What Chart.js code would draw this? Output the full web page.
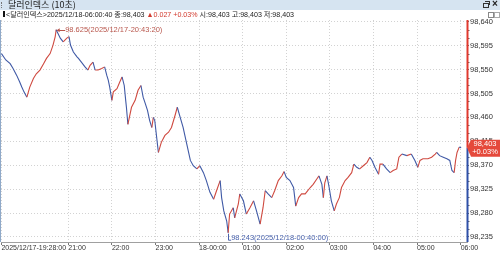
<!DOCTYPE html>
<html><head><meta charset="utf-8">
<script src="https://cdn.jsdelivr.net/npm/chart.js@4.4.1/dist/chart.umd.min.js"></script>
<style>
html,body{margin:0;padding:0;background:#fff}
body{width:500px;height:254px;overflow:hidden;position:relative;font-family:'Liberation Sans','Noto Sans CJK KR',sans-serif}
#c{position:absolute;left:0;top:0}
#title{position:absolute;left:0;top:0;width:500px;height:10px;background:#d6e4f1;font-size:9px;line-height:10px;color:#222;white-space:nowrap;font-family:'Noto Sans CJK KR',sans-serif;z-index:2}
#title .t{position:absolute;left:8px;top:0}
#title .grip{position:absolute;left:1px;top:2px;width:1px;height:6px;border-left:1px dotted #777}
#xx{position:absolute;left:492px;top:-1px;width:8px;height:10px;font-size:10px;line-height:10px;font-weight:bold;color:#222;font-family:'Liberation Sans',sans-serif;z-index:3}
#title .r1{position:absolute;left:483px;top:3px;width:4px;height:3px;border:1px solid #333}
#title .r2{position:absolute;left:485px;top:1px;width:4px;height:3px;border-top:1px solid #333;border-right:1px solid #333}
#info{position:absolute;left:0;top:10px;width:480px;height:10px;font-size:7.1px;line-height:10px;color:#222;white-space:nowrap}
#info .sq{display:inline-block;width:2px;height:6px;background:#111;margin:0 1px 0 3px}
#info .up{color:#d23a2e}
.b1{position:absolute;left:488px;top:12px;width:4px;height:4px;border:1px solid #888;background:#fff}
.b2{position:absolute;left:494px;top:12px;width:4px;height:4px;border:1px solid #aaa;background:#fff}
#lb{position:absolute;left:0;top:20px;width:1px;height:222px;background:#8fa9c9}
</style></head>
<body>
<canvas id="c" width="500" height="254"></canvas>
<div id="title"><span class="grip"></span><span class="t">달러인덱스 (10초)</span><span class="r1"></span><span class="r2"></span></div>
<div id="xx">×</div>
<div id="info"><span class="sq"></span>&lt;달러인덱스&gt;2025/12/18-06:00:40 종:98,403 <span class="up">▲0.027 +0.03%</span> 시:98,403 고:98,403 저:98,403</div>
<div class="b1"></div><div class="b2"></div>
<div id="lb"></div>
<script>
// minutes relative to 2025/12/17 21:00
const times = [-92,-86,-80,-76,-71,-67,-64,-61,-57,-53,
 -48,-44,-39,-34,-30,-25,-21,-18,-16.67,-11,
 -7,-2,1,3,7,12,14,18,23,27,
 30,34,37,41,46,50,53,55,57,60,
 62,67,71,74,77,79,80,82,87,92,
 96,100,103,106,109,112,115,117,119,124,
 128,133,138,142,147,150,154,158,163,168,
 172,177,181,186,190,195,200,204,209,211,
 214,218,220,222,227,229,234,236,241,245,
 250,255,259,264,268,271,275,280,284,289,
 294,297,300,305,310,313,317,321,326,333,
 337,342,345,349,351,353,356,359,362,366,
 369,373,376,381,385,390,393,397,401,406,
 411,415,418,422,427,429,433,438,443,447,
 452,455,459,466,472,477,481,484,488,495,
 500,505,507,511,516,521,525,528,531,533,
 535,538,540.67];
const prices = [98.580,98.568,98.561,98.552,98.539,98.527,98.517,98.508,98.498,98.517,
 98.533,98.542,98.549,98.561,98.571,98.580,98.596,98.612,98.625,98.609,
 98.602,98.609,98.612,98.596,98.583,98.574,98.571,98.564,98.555,98.549,
 98.558,98.564,98.549,98.549,98.552,98.555,98.539,98.530,98.517,98.492,
 98.508,98.514,98.527,98.536,98.520,98.492,98.479,98.447,98.479,98.492,
 98.511,98.520,98.498,98.486,98.473,98.454,98.441,98.460,98.454,98.394,
 98.413,98.426,98.432,98.441,98.464,98.479,98.460,98.441,98.410,98.379,
 98.369,98.363,98.369,98.356,98.341,98.319,98.306,98.322,98.341,98.309,
 98.284,98.265,98.243,98.278,98.290,98.271,98.297,98.316,98.303,98.278,
 98.290,98.303,98.284,98.259,98.290,98.322,98.316,98.309,98.322,98.341,
 98.350,98.358,98.347,98.341,98.328,98.293,98.309,98.316,98.316,98.328,
 98.334,98.344,98.350,98.334,98.309,98.337,98.350,98.328,98.303,98.284,
 98.297,98.309,98.328,98.341,98.347,98.356,98.372,98.366,98.363,98.369,
 98.375,98.385,98.379,98.366,98.353,98.372,98.372,98.363,98.356,98.360,
 98.363,98.385,98.391,98.388,98.391,98.379,98.366,98.379,98.382,98.382,
 98.385,98.391,98.394,98.388,98.385,98.382,98.379,98.360,98.356,98.379,
 98.394,98.404,98.403];
const xTickMinutes = [-92,0,60,120,180,240,300,360,420,480,540];
const xTickLabels = ['2025/12/17-19:28:00','21:00','22:00','23:00','18-00:00','01:00','02:00','03:00','04:00','05:00','06:00'];
const yTickValues = [98.235,98.280,98.325,98.370,98.415,98.460,98.505,98.550,98.595,98.640];
const lastPrice = 98.403, lastChange = '+0.03%';
const highPoint = {t:-16.67, v:98.625, label:'98.625(2025/12/17-20:43:20)'};
const lowPoint = {t:220, v:98.243, label:'98.243(2025/12/18-00:40:00)'};

const RED = '#cf4a40', BLUE = '#405aa6';
const FONT = "'Liberation Sans',sans-serif";

const deco = {
  id:'deco',
  afterDatasetsDraw(chart){
    const {ctx, chartArea:a, scales:{x,y}} = chart;
    ctx.save();
    const yp = y.getPixelForValue(lastPrice);
    const ax = a.right + 0.5;
    ctx.strokeStyle = '#666'; ctx.lineWidth = 1;
    for (let i=0;i<yTickValues.length;i++){
      for (const d of [0.015,0.030]){
        const v = yTickValues[i]+d;
        if (v > y.max) continue;
        const py = Math.round(y.getPixelForValue(v))+0.5;
        ctx.beginPath(); ctx.moveTo(ax, py); ctx.lineTo(ax+2, py); ctx.stroke();
      }
    }
    ctx.lineWidth = 2;
    ctx.strokeStyle = '#e0392e'; ctx.beginPath(); ctx.moveTo(ax, a.top); ctx.lineTo(ax, yp); ctx.stroke();
    ctx.strokeStyle = '#2f50a8'; ctx.beginPath(); ctx.moveTo(ax, yp); ctx.lineTo(ax, a.bottom); ctx.stroke();
    ctx.fillStyle = '#e5493b';
    ctx.beginPath();
    ctx.moveTo(a.right, yp); ctx.lineTo(a.right+4, yp-8); ctx.lineTo(500, yp-8);
    ctx.lineTo(500, yp+9); ctx.lineTo(a.right+4, yp+9); ctx.closePath(); ctx.fill();
    ctx.fillStyle = '#fff'; ctx.font = '7.5px '+FONT; ctx.textAlign='center'; ctx.textBaseline='middle';
    ctx.fillText(lastPrice.toFixed(3).replace('.',','), 485, yp-3.5);
    ctx.fillText(lastChange, 485, yp+4.5);
    const hx = x.getPixelForValue(highPoint.t), hy = y.getPixelForValue(highPoint.v);
    ctx.strokeStyle = '#b8564c'; ctx.fillStyle = '#b8564c'; ctx.lineWidth = 1;
    ctx.beginPath(); ctx.moveTo(hx+1, Math.round(hy)+0.5); ctx.lineTo(hx+9, Math.round(hy)+0.5); ctx.stroke();
    ctx.beginPath(); ctx.moveTo(hx+0.5, hy+0.5); ctx.lineTo(hx+3.5, hy-1.5); ctx.lineTo(hx+3.5, hy+2.5); ctx.closePath(); ctx.fill();
    ctx.textAlign='left'; ctx.textBaseline='middle'; ctx.font='7.5px '+FONT;
    ctx.fillText(highPoint.label, hx+9, hy+0.5);
    const lx = x.getPixelForValue(lowPoint.t), ly = y.getPixelForValue(lowPoint.v);
    ctx.strokeStyle = '#4a63ad'; ctx.fillStyle = '#4a63ad';
    ctx.beginPath(); ctx.moveTo(Math.round(lx)+0.5, ly+1); ctx.lineTo(Math.round(lx)+0.5, ly+7.5); ctx.lineTo(lx+3, ly+7.5); ctx.stroke();
    ctx.fillText(lowPoint.label, lx+3, ly+5);
    ctx.restore();
  }
};

new Chart(document.getElementById('c'), {
  type:'line',
  data:{datasets:[{
    data: times.map((t,i)=>({x:t, y:prices[i]})),
    borderWidth:1.1, pointRadius:0, tension:0, borderColor:RED,
    segment:{borderColor: c => c.p1.parsed.y >= c.p0.parsed.y ? RED : BLUE}
  }]},
  options:{
    responsive:false, animation:false, events:[],
    layout:{padding:{left:1, top:20, right:0, bottom:0}},
    plugins:{legend:{display:false}, tooltip:{enabled:false}},
    scales:{
      x:{type:'linear', min:-92.6, max:548.7,
        afterFit(s){ s.height = 12; },
        afterBuildTicks(s){ s.ticks = xTickMinutes.map(v=>({value:v})); },
        ticks:{align:'start', padding:-1, autoSkip:false, maxRotation:0, color:'#333',
          font:{family:FONT, size:7},
          callback:(v)=>{ const i = xTickMinutes.indexOf(v); return i>=0 ? xTickLabels[i] : ''; }},
        grid:{color:'#d2d2d2', tickLength:3, tickColor:'#777', tickBorderDash:[]},
        border:{display:true, color:'#a0a0a0', width:1, dash:[1,2]}
      },
      y:{position:'right', min:98.2255, max:98.6432,
        afterFit(s){ s.width = 33; },
        afterBuildTicks(s){ s.ticks = yTickValues.map(v=>({value:v})); },
        ticks:{padding:1, color:'#333', font:{family:FONT, size:7.5},
          callback:(v)=> v.toFixed(3).replace('.',',')},
        grid:{color:'#d2d2d2', tickLength:2, tickColor:'#666', tickBorderDash:[]},
        border:{display:false, dash:[1,2]}
      }
    }
  },
  plugins:[deco]
});
</script>
</body></html>
